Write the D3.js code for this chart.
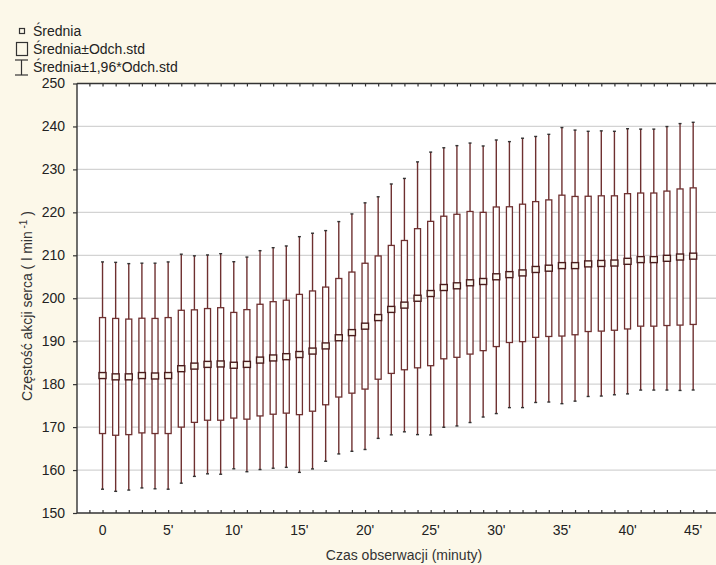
<!DOCTYPE html>
<html>
<head>
<meta charset="utf-8">
<script src="https://cdn.jsdelivr.net/npm/d3@7/dist/d3.min.js"></script>
<style>
  body { margin: 0; background: #fcf8e9; }
  svg { display: block; font-family: "Liberation Sans", Arial, sans-serif; }
</style>
</head>
<body>
<div id="chart"></div>
<script>
// minutes of observation (categories)
const minutes = [0,1,2,3,4,5,6,7,8,9,10,11,12,13,14,15,16,17,18,19,20,21,22,23,
                 24,25,26,27,28,29,30,31,32,33,34,35,36,37,38,39,40,41,42,43,44,45];
// mean heart rate
const means = [182.0,181.7,181.7,182.0,181.9,182.0,183.6,184.2,184.6,184.7,184.4,184.6,
               185.6,186.1,186.4,186.9,187.7,188.9,190.8,192.0,193.5,195.5,197.4,198.4,
               200.0,201.1,202.5,202.9,203.6,203.9,205.0,205.5,205.9,206.7,207.0,207.6,
               207.6,208.0,208.1,208.2,208.6,209.0,209.0,209.3,209.6,209.8];
// standard deviation
const sds = [13.5,13.6,13.45,13.35,13.4,13.5,13.6,13.1,13.0,13.1,12.3,12.75,
             13.0,13.1,13.15,14.0,14.0,13.7,13.8,14.1,14.65,14.35,14.9,15.05,
             16.2,16.8,16.6,16.65,16.6,16.1,16.25,15.8,16.0,15.8,15.9,16.4,
             16.1,15.75,15.75,15.65,15.75,15.5,15.5,15.65,15.85,15.9];
const xTickValues = [0,5,10,15,20,25,30,35,40,45];
const xTickLabels = ["0","5'","10'","15'","20'","25'","30'","35'","40'","45'"];
const yTicks = [150,160,170,180,190,200,210,220,230,240,250];

const ctx = { w: 716, h: 565, left: 77, right: 716, top: 83.5, bottom: 513 };
const col = "#6e3030";

const svg = d3.select("#chart").append("svg")
  .attr("width", ctx.w).attr("height", ctx.h);

svg.append("rect").attr("width", ctx.w).attr("height", ctx.h).attr("fill", "#fcf8e9");

const x = d3.scaleLinear().domain([-1, 46]).range([89.4, 706.3]);
const y = d3.scaleLinear().domain([150, 250]).range([ctx.bottom, ctx.top]);

// plot area
svg.append("rect")
  .attr("x", ctx.left).attr("y", ctx.top)
  .attr("width", ctx.right - ctx.left + 5).attr("height", ctx.bottom - ctx.top)
  .attr("fill", "#ffffff");

// grid
svg.append("g").selectAll("line")
  .data(yTicks.filter(d => d > 150 && d < 250))
  .enter().append("line")
  .attr("x1", ctx.left).attr("x2", ctx.right)
  .attr("y1", d => y(d)).attr("y2", d => y(d))
  .attr("stroke", "#d3d3d3").attr("stroke-width", 1.3);

const data = minutes.map((m, i) => ({
  m: m, mean: means[i], sd: sds[i]
}));

const boxes = svg.append("g");
const g = boxes.selectAll("g").data(data).enter().append("g");

// whiskers: mean ± 1.96 sd
g.append("line")
  .attr("x1", d => x(d.m)).attr("x2", d => x(d.m))
  .attr("y1", d => y(d.mean + 1.96 * d.sd)).attr("y2", d => y(d.mean - 1.96 * d.sd))
  .attr("stroke", col).attr("stroke-width", 1.4);
g.append("line")
  .attr("x1", d => x(d.m) - 1.5).attr("x2", d => x(d.m) + 1.5)
  .attr("y1", d => y(d.mean + 1.96 * d.sd)).attr("y2", d => y(d.mean + 1.96 * d.sd))
  .attr("stroke", "#333").attr("stroke-width", 1.4);
g.append("line")
  .attr("x1", d => x(d.m) - 1.5).attr("x2", d => x(d.m) + 1.5)
  .attr("y1", d => y(d.mean - 1.96 * d.sd)).attr("y2", d => y(d.mean - 1.96 * d.sd))
  .attr("stroke", "#333").attr("stroke-width", 1.4);

// box: mean ± sd
g.append("rect")
  .attr("x", d => x(d.m) - 3).attr("width", 6)
  .attr("y", d => y(d.mean + d.sd))
  .attr("height", d => y(d.mean - d.sd) - y(d.mean + d.sd))
  .attr("fill", "#fff").attr("stroke", col).attr("stroke-width", 1.3);

// mean marker
g.append("rect")
  .attr("x", d => x(d.m) - 3.5).attr("width", 7)
  .attr("y", d => y(d.mean) - 3).attr("height", 6)
  .attr("fill", "#fdf8f0").attr("stroke", "#4a1c1c").attr("stroke-width", 1.4);

// frame
svg.append("line").attr("x1", ctx.left).attr("x2", ctx.right)
  .attr("y1", ctx.top).attr("y2", ctx.top).attr("stroke", "#333").attr("stroke-width", 1.4);
svg.append("line").attr("x1", ctx.left).attr("x2", ctx.right)
  .attr("y1", ctx.bottom).attr("y2", ctx.bottom).attr("stroke", "#333").attr("stroke-width", 1.4);
svg.append("line").attr("x1", ctx.left).attr("x2", ctx.left)
  .attr("y1", ctx.top).attr("y2", ctx.bottom).attr("stroke", "#333").attr("stroke-width", 1.4);

// minor ticks top & bottom
const tickPos = d3.range(-1, 47);
svg.append("g").attr("transform", "translate(0," + ctx.bottom + ")")
  .call(d3.axisBottom(x).tickValues(tickPos).tickSize(-3).tickSizeOuter(0).tickFormat(""))
  .call(a => a.select(".domain").remove())
  .call(a => a.selectAll("line").attr("stroke", "#333").attr("stroke-width", 1.2));
svg.append("g").attr("transform", "translate(0," + ctx.top + ")")
  .call(d3.axisTop(x).tickValues(tickPos).tickSize(-3).tickSizeOuter(0).tickFormat(""))
  .call(a => a.select(".domain").remove())
  .call(a => a.selectAll("line").attr("stroke", "#333").attr("stroke-width", 1.2));

// y axis
svg.append("g").attr("transform", "translate(" + ctx.left + ",0)")
  .call(d3.axisLeft(y).tickValues(yTicks).tickSize(4).tickPadding(8).tickSizeOuter(0))
  .call(a => a.select(".domain").remove())
  .call(a => a.selectAll("line").attr("stroke", "#333").attr("stroke-width", 1.2))
  .call(a => a.selectAll("text").attr("fill", "#222").style("font-size", "14px")
    .style("font-family", "'Liberation Sans', Arial, sans-serif"));

// x labels
svg.append("g").selectAll("text").data(xTickValues).enter().append("text")
  .attr("x", d => x(d)).attr("y", 535)
  .attr("text-anchor", "middle").attr("fill", "#222").style("font-size", "14px")
  .text((d, i) => xTickLabels[i]);

svg.append("text").attr("x", 404).attr("y", 560)
  .attr("text-anchor", "middle").attr("fill", "#333").style("font-size", "14px")
  .text("Czas obserwacji (minuty)");

const yt = svg.append("text")
  .attr("transform", "translate(32,306) rotate(-90)")
  .attr("text-anchor", "middle").attr("fill", "#333").style("font-size", "14px");
yt.append("tspan").text("Częstość akcji serca ( l min");
yt.append("tspan").attr("dy", -5).style("font-size", "10px").text(" -1");
yt.append("tspan").attr("dy", 5).text(" )");

// legend
const lg = svg.append("g");
lg.append("rect").attr("x", 19.5).attr("y", 28.5).attr("width", 5).attr("height", 5)
  .attr("fill", "none").attr("stroke", "#333").attr("stroke-width", 1.2);
lg.append("rect").attr("x", 16.5).attr("y", 42.5).attr("width", 11).attr("height", 13)
  .attr("fill", "none").attr("stroke", "#333").attr("stroke-width", 1.2);
lg.append("line").attr("x1", 15).attr("x2", 28).attr("y1", 60).attr("y2", 60).attr("stroke", "#333").attr("stroke-width", 1.2);
lg.append("line").attr("x1", 15).attr("x2", 28).attr("y1", 75).attr("y2", 75).attr("stroke", "#333").attr("stroke-width", 1.2);
lg.append("line").attr("x1", 21.5).attr("x2", 21.5).attr("y1", 60).attr("y2", 75).attr("stroke", "#333").attr("stroke-width", 1.2);
const legendTexts = ["Średnia", "Średnia±Odch.std", "Średnia±1,96*Odch.std"];
lg.selectAll("text.lt").data(legendTexts).enter().append("text")
  .attr("class", "lt")
  .attr("x", 33).attr("y", (d, i) => 36 + i * 18)
  .attr("fill", "#222").style("font-size", "14px").text(d => d);
</script>
</body>
</html>
